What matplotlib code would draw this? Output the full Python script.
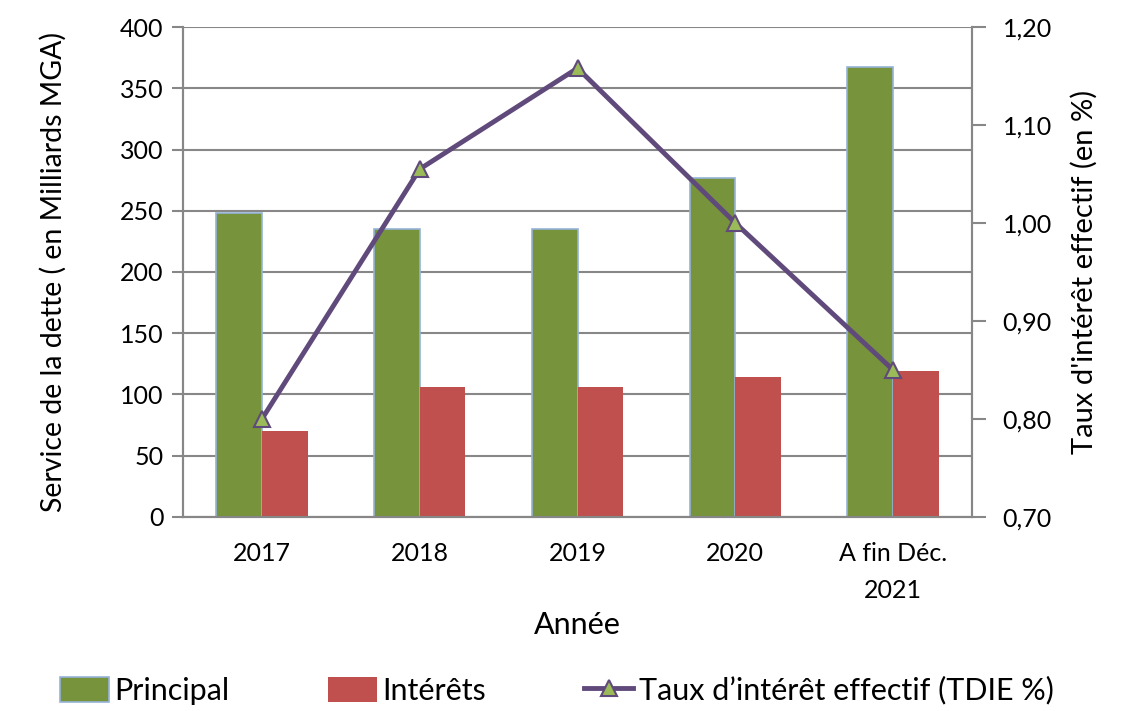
import numpy as np
import matplotlib.pyplot as plt
from matplotlib.ticker import FuncFormatter

plt.rcParams['font.family'] = ['Lato', 'DejaVu Sans']

# Data
years = ["2017", "2018", "2019", "2020", "A fin Déc.\n2021"]
principal = [248, 235, 235, 277, 367]
interets = [70, 106, 106, 114, 119]
tdie = [0.80, 1.055, 1.158, 1.00, 0.85]

green = "#77933C"
red = "#C0504D"
purple = "#604A7B"
grid_c = "#878787"
fs = 18

fig = plt.figure(figsize=(11.25, 7.11), dpi=100)
ax1 = fig.add_axes([0.1627, 0.2729, 0.7013, 0.6891])
ax2 = ax1.twinx()

x = np.arange(len(years)) + 0.5
w = 0.29
ax1.bar(x - w / 2, principal, width=w, color=green, edgecolor="#95B3D7", linewidth=1.2, label="Principal", zorder=2)
ax1.bar(x + w / 2, interets, width=w, color=red, label="Intérêts", zorder=2)

ax1.set_xlim(0, 5)
ax1.set_ylim(0, 400)
ax1.set_yticks(np.arange(0, 401, 50))
ax1.grid(True, axis="y", color=grid_c, linewidth=1.5, zorder=0)
ax1.set_axisbelow(True)
ax1.set_xticks(x)
ax1.set_xticklabels(years, fontsize=fs, linespacing=1.75)
ax1.tick_params(axis="x", length=0, pad=18)
ax1.tick_params(axis="y", labelsize=fs, length=8, width=1.5, color=grid_c, pad=6)
ax1.set_xlabel("Année", fontsize=22, labelpad=6)
ax1.set_ylabel("Service de la dette ( en Milliards MGA)", fontsize=20.5, labelpad=38)

ax2.plot(x, tdie, color=purple, linewidth=3.5, marker="^", markersize=12,
         markerfacecolor="#9BBB59", markeredgecolor=purple, markeredgewidth=1.5,
         label="Taux d\u2019intérêt effectif (TDIE %)", zorder=5)
ax2.set_ylim(0.70, 1.20)
ax2.set_yticks(np.arange(0.70, 1.201, 0.10))
ax2.yaxis.set_major_formatter(FuncFormatter(lambda v, p: f"{v:.2f}".replace(".", ",")))
ax2.tick_params(axis="y", labelsize=fs, length=10, width=1.5, color=grid_c, pad=12)
ax2.set_ylabel("Taux d'intérêt effectif (en %)", fontsize=21, labelpad=14)

for a in (ax1, ax2):
    for s in a.spines.values():
        s.set_color(grid_c)
        s.set_linewidth(1.5)
    a.spines["top"].set_visible(False)

h1, l1 = ax1.get_legend_handles_labels()
h2, l2 = ax2.get_legend_handles_labels()
fig.legend(h1 + h2, l1 + l2, loc="lower center", bbox_to_anchor=(0.495, -0.03), ncol=3,
           frameon=False, fontsize=22, handlelength=1.6, handleheight=0.9,
           handletextpad=0.2, columnspacing=3.2)

fig.savefig("out.png", dpi=100)
